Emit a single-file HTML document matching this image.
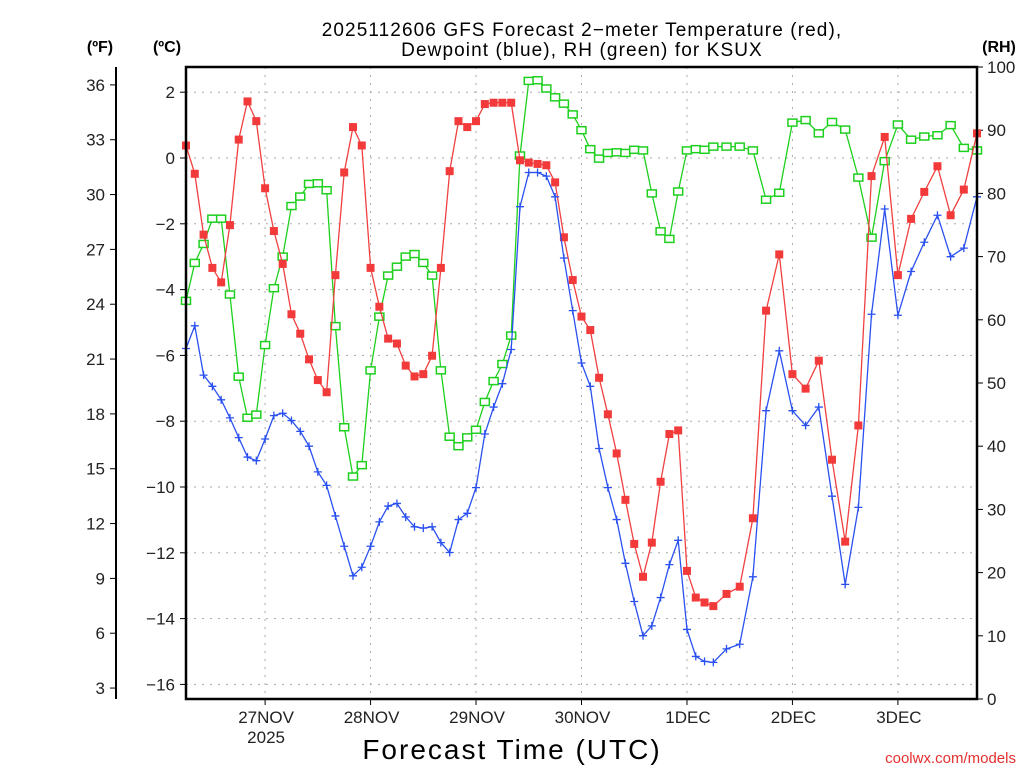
<!DOCTYPE html>
<html><head><meta charset="utf-8">
<style>
html,body{margin:0;padding:0;background:#fff;width:1024px;height:768px;overflow:hidden}
svg{display:block}
text{font-family:"Liberation Sans",sans-serif}
</style></head>
<body>
<svg id="chart" width="1024" height="768" viewBox="0 0 1024 768" xmlns="http://www.w3.org/2000/svg">
<rect x="0" y="0" width="1024" height="768" fill="#fff"/>
<text x="582" y="36" font-size="19" letter-spacing="1.1" text-anchor="middle" fill="#000">2025112606 GFS Forecast 2−meter Temperature (red),</text>
<text x="582" y="56" font-size="19" letter-spacing="1.1" text-anchor="middle" fill="#000">Dewpoint (blue), RH (green) for KSUX</text>
<text x="100" y="52" font-size="16" font-weight="bold" text-anchor="middle">(ºF)</text>
<text x="167" y="52" font-size="16" font-weight="bold" text-anchor="middle">(ºC)</text>
<text x="999" y="52" font-size="16" font-weight="bold" text-anchor="middle">(RH)</text>
<text x="512" y="759" font-size="28" text-anchor="middle" fill="#000" letter-spacing="2">Forecast Time (UTC)</text>
<text x="1016" y="763" font-size="15" text-anchor="end" fill="#e53030" font-family="Liberation Mono, monospace">coolwx.com/models</text>
<g id="grid"></g>
<g id="axes"></g>
<g id="series"></g>
<rect x="186" y="67" width="791" height="632" fill="none" stroke="#000" stroke-width="2.5"/>
</svg>
<script>
const hours = [0,2,4,6,8,10,12,14,16,18,20,22,24,26,28,30,32,34,36,38,40,42,44,46,48,50,52,54,56,58,60,62,64,66,68,70,72,74,76,78,80,82,84,86,88,90,92,94,96,98,100,102,104,106,108,110,112,114,116,118,120,123,126,129,132,135,138,141,144,147,150,153,156,159,162,165,168,171,174,177,180];
const tempC = [0.38,-0.48,-2.33,-3.34,-3.78,-2.04,0.56,1.72,1.12,-0.92,-2.22,-3.22,-4.75,-5.34,-6.12,-6.75,-7.12,-3.56,-0.44,0.94,0.38,-3.34,-4.52,-5.49,-5.64,-6.31,-6.64,-6.57,-6.01,-3.34,-0.40,1.12,0.94,1.12,1.64,1.68,1.68,1.68,-0.07,-0.14,-0.18,-0.22,-0.74,-2.41,-3.71,-4.82,-5.23,-6.68,-7.79,-8.98,-10.39,-11.73,-12.73,-11.69,-9.84,-8.39,-8.28,-12.55,-13.36,-13.51,-13.62,-13.25,-13.03,-10.95,-4.64,-2.93,-6.57,-7.01,-6.16,-9.17,-11.66,-8.13,-0.55,0.64,-3.56,-1.85,-1.03,-0.25,-1.74,-0.96,0.75];
const dewC = [-5.79,-5.1,-6.60,-6.94,-7.35,-7.90,-8.50,-9.09,-9.20,-8.54,-7.83,-7.76,-7.98,-8.31,-8.76,-9.54,-9.95,-10.88,-11.80,-12.70,-12.44,-11.80,-11.06,-10.58,-10.50,-10.91,-11.21,-11.25,-11.21,-11.69,-11.99,-10.99,-10.80,-10.02,-8.39,-7.57,-6.86,-5.82,-1.48,-0.44,-0.44,-0.55,-1.18,-3.04,-4.64,-6.23,-6.94,-8.83,-10.02,-10.99,-12.32,-13.48,-14.52,-14.22,-13.36,-12.36,-11.62,-14.33,-15.15,-15.30,-15.33,-14.92,-14.78,-12.73,-7.68,-5.86,-7.68,-8.13,-7.57,-10.28,-12.96,-10.62,-4.75,-1.55,-4.78,-3.45,-2.56,-1.74,-3.00,-2.74,-1.18];
const rh = [63,69,72,76,76,64,51,44.5,45,56,65,70,78,79.5,81.5,81.6,80.5,59,43,35.2,37,52,60.5,67,68.4,70,70.4,69,67,52,41.5,40,41.4,42.6,47,50.3,53,57.5,86,97.8,97.9,96.6,95.2,94.2,92.5,90,87,85.5,86.4,86.5,86.4,86.9,86.8,80,74,72.8,80.3,86.8,87,86.9,87.4,87.4,87.4,86.8,79,80.1,91.2,91.6,89.5,91.3,90.1,82.5,73,85.1,90.9,88.5,89,89.2,90.8,87.2,86.8];
const celsiusTicks = [2,0,-2,-4,-6,-8,-10,-12,-14,-16];
const fahrenheitTicks = [36,33,30,27,24,21,18,15,12,9,6,3];
const rhTicks = [100,90,80,70,60,50,40,30,20,10,0];
const dayLabels = ["27NOV","28NOV","29NOV","30NOV","1DEC","2DEC","3DEC"];
const dayHours = [18,42,66,90,114,138,162];

const NS = "http://www.w3.org/2000/svg";
const X0 = 186, X1 = 977, Y0 = 67, Y1 = 699, HMAX = 180;
function xScale(h){ return X0 + (X1 - X0) * h / HMAX; }
function yC(c){ return 158 - 32.9 * c; }
function yF(f){ return yC((f - 32) / 1.8); }
function yRH(r){ return Y1 - (Y1 - Y0) * r / 100; }
function mk(tag, attrs, parent){
  const e = document.createElementNS(NS, tag);
  for (const k in attrs) e.setAttribute(k, attrs[k]);
  parent.appendChild(e);
  return e;
}
const grid = document.getElementById('grid');
const axes = document.getElementById('axes');
const series = document.getElementById('series');

celsiusTicks.forEach(c => {
  const y = yC(c);
  const gl = mk('line', {x1:X0, x2:X1, y1:y, y2:y, stroke:'#aaa', 'stroke-width':1, 'stroke-dasharray':'2,6'}, grid);
  
  
  const tk = mk('line', {x1:X0-6, x2:X0, y1:y, y2:y, stroke:'#000', 'stroke-width':1}, axes);
  
  
  const t = mk('text', {x:X0-11, y:y+6, 'font-size':17, 'text-anchor':'end', fill:'#222'}, axes);
  t.textContent = c < 0 ? '\u2212' + Math.abs(c) : String(c);
  
  
});
const fa = mk('line', {x1:116, x2:116, y1:Y0, y2:Y1, stroke:'#000', 'stroke-width':2}, axes);


fahrenheitTicks.forEach(f => {
  const y = yF(f);
  const tk = mk('line', {x1:110, x2:116, y1:y, y2:y, stroke:'#000', 'stroke-width':1}, axes);
  
  
  const t = mk('text', {x:105, y:y+6, 'font-size':17, 'text-anchor':'end', fill:'#222'}, axes);
  t.textContent = String(f);
  
  
});
rhTicks.forEach(r => {
  const y = yRH(r);
  const tk = mk('line', {x1:X1, x2:X1+6, y1:y, y2:y, stroke:'#000', 'stroke-width':1}, axes);
  
  
  const t = mk('text', {x:X1+10, y:y+6, 'font-size':17, 'text-anchor':'start', fill:'#222'}, axes);
  t.textContent = String(r);
  
  
});
dayHours.forEach((h, i) => {
  const x = xScale(h);
  const gl = mk('line', {x1:x, x2:x, y1:Y0, y2:Y1, stroke:'#aaa', 'stroke-width':1, 'stroke-dasharray':'2,6'}, grid);
  
  
  const tk = mk('line', {x1:x, x2:x, y1:Y1, y2:Y1+6, stroke:'#000', 'stroke-width':1}, axes);
  
  
  const t = mk('text', {x:x+1, y:Y1+24, 'font-size':17, 'text-anchor':'middle', fill:'#222'}, axes);
  t.textContent = dayLabels[i];
  
  
});
const yr = mk('text', {x:xScale(dayHours[0])+1, y:Y1+44, 'font-size':17, 'text-anchor':'middle', fill:'#222'}, axes);
yr.textContent = '2025';



function drawLine(vals, yfn, color, name){
  const pts = vals.map((v, i) => xScale(hours[i]).toFixed(1) + ',' + yfn(v).toFixed(1)).join(' ');
  const pl = mk('polyline', {points:pts, fill:'none', stroke:color, 'stroke-width':1.3}, series);
  
  
}
drawLine(rh, yRH, '#1ed01e', 'rh-line');
rh.forEach((v, i) => {
  const x = xScale(hours[i]), y = yRH(v);
  const m = mk('rect', {x:x-4.5, y:y-3.5, width:9, height:7, fill:'#fff', stroke:'#1ed01e', 'stroke-width':1.5}, series);
  
  
});
drawLine(tempC, yC, '#f04040', 'temperature-line');
tempC.forEach((v, i) => {
  const x = xScale(hours[i]), y = yC(v);
  const m = mk('rect', {x:x-4, y:y-4, width:8, height:8, fill:'#f23a3a'}, series);
  
  
});
drawLine(dewC, yC, '#2a50f0', 'dewpoint-line');
dewC.forEach((v, i) => {
  const x = xScale(hours[i]), y = yC(v);
  const m = mk('path', {d:'M'+(x-4)+','+y+'H'+(x+4)+'M'+x+','+(y-4)+'V'+(y+4), stroke:'#2a50f0', 'stroke-width':1.3, fill:'none'}, series);
  
  
});
</script>
</body></html>
